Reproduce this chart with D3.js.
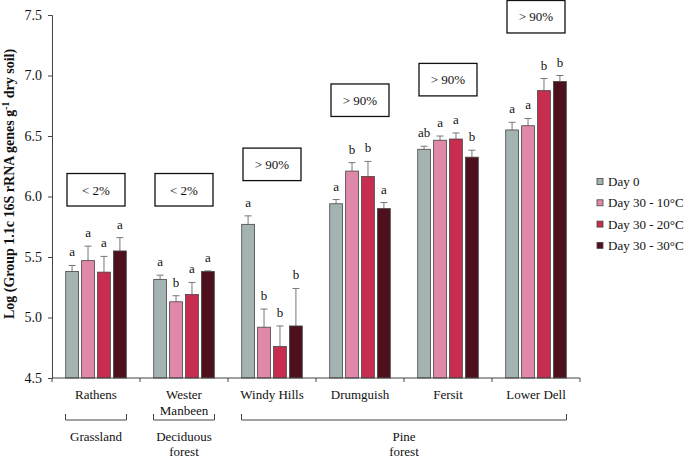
<!DOCTYPE html>
<html><head><meta charset="utf-8">
<script src="https://cdn.jsdelivr.net/npm/d3@7"></script>
<style>body{margin:0;background:#fff} text{font-family:"Liberation Serif","Times New Roman",serif}</style>
</head><body><svg id="c" width="693" height="457"></svg>
<script>
const categories = ["Rathens","Wester Manbeen","Windy Hills","Drumguish","Fersit","Lower Dell"];
const categoryLines = [["Rathens"],["Wester","Manbeen"],["Windy Hills"],["Drumguish"],["Fersit"],["Lower Dell"]];
const series = ["Day 0","Day 30 - 10°C","Day 30 - 20°C","Day 30 - 30°C"];
const day0     = [5.38, 5.315, 5.77, 5.94, 6.39, 6.55];
const day30_10 = [5.47, 5.13, 4.92, 6.21, 6.465, 6.585];
const day30_20 = [5.375, 5.19, 4.76, 6.165, 6.475, 6.875];
const day30_30 = [5.55, 5.38, 4.93, 5.90, 6.325, 6.95];
const err0  = [0.05, 0.035, 0.07, 0.035, 0.025, 0.063];
const err10 = [0.12, 0.05, 0.15, 0.07, 0.035, 0.06];
const err20 = [0.13, 0.10, 0.17, 0.125, 0.05, 0.10];
const err30 = [0.11, 0.005, 0.31, 0.05, 0.058, 0.05];
const letters0  = ["a","a","a","a","ab","a"];
const letters10 = ["a","b","b","b","a","a"];
const letters20 = ["a","a","b","b","a","b"];
const letters30 = ["a","a","b","a","b","b"];
const boxLabels = ["< 2%","< 2%","> 90%","> 90%","> 90%","> 90%"];
const boxLevels = [6.19, 6.19, 6.40, 6.93, 7.10, 7.62];
const habitats = [["Grassland"],["Deciduous","forest"],["Pine","forest"]];
const habitatSpans = [[0,0],[1,1],[2,5]];
const yTicks = [4.5,5.0,5.5,6.0,6.5,7.0,7.5];
const colors = ["#a3b3b2","#e088aa","#c62d4e","#4e101c"];

const values = [day0, day30_10, day30_20, day30_30];
const errs = [err0, err10, err20, err30];
const letters = [letters0, letters10, letters20, letters30];

const svg = d3.select("#c");
const pL = 52, pR = 580, pT = 15, pB = 378;
const x0 = d3.scaleBand().domain(categories).range([pL, pR]).padding(0);
const x1 = d3.scaleBand().domain(series).range([13.7, x0.bandwidth() - 13.7]).paddingInner(0.2).paddingOuter(0);
const y = d3.scaleLinear().domain([4.5, 7.5]).range([pB, pT]);

// bars
const data = [];
categories.forEach((c, i) => series.forEach((s, j) => data.push({c, s, j, v: values[j][i], e: errs[j][i], l: letters[j][i]})));
const g = svg.append("g");
const cxOf = d => x0(d.c) + x1(d.s) + x1.bandwidth()/2;
g.selectAll("line.err").data(data).join("line").attr("class","err")
  .attr("x1", cxOf).attr("x2", cxOf)
  .attr("y1", d => y(d.v)).attr("y2", d => y(d.v + d.e)).attr("stroke", "#777").attr("stroke-width", 1);
g.selectAll("line.cap").data(data).join("line").attr("class","cap")
  .attr("x1", d => cxOf(d) - 3.5).attr("x2", d => cxOf(d) + 3.5)
  .attr("y1", d => y(d.v + d.e)).attr("y2", d => y(d.v + d.e)).attr("stroke", "#777").attr("stroke-width", 1);
g.selectAll("rect.bar").data(data).join("rect").attr("class","bar")
  .attr("x", d => x0(d.c) + x1(d.s)).attr("width", x1.bandwidth())
  .attr("y", d => y(d.v)).attr("height", d => y(4.5) - y(d.v))
  .attr("fill", d => colors[d.j]).attr("stroke", "#444").attr("stroke-width", 0.8);
g.selectAll("text.let").data(data).join("text").attr("class","let")
  .attr("x", cxOf).attr("y", d => y(d.v + d.e) - 9)
  .attr("text-anchor", "middle").attr("font-size", 13).attr("fill", "#111").text(d => d.l);

// annotation boxes
categories.forEach((c, i) => {
  const cx = x0(c) + x0.bandwidth()/2, yt = y(boxLevels[i]);
  svg.append("rect").attr("x", cx - 29).attr("y", yt).attr("width", 58).attr("height", 32.5)
    .attr("fill", "#fff").attr("stroke", "#111").attr("stroke-width", 1.3);
  svg.append("text").attr("x", cx).attr("y", yt + 21).attr("text-anchor", "middle").attr("font-size", 13).attr("fill", "#111").text(boxLabels[i]);
});

// y axis
const ya = svg.append("g").attr("transform", `translate(${pL},0)`)
  .call(d3.axisLeft(y).tickValues(yTicks).tickFormat(d3.format(".1f")).tickSize(4).tickPadding(6));
ya.selectAll("path,line").attr("stroke", "#444");
ya.selectAll("text").attr("font-size", 14).attr("fill", "#111");

// x axis line and boundary ticks
const bounds = categories.map(c => x0(c)).concat([pR]);
svg.append("line").attr("x1", pL).attr("x2", pR).attr("y1", pB).attr("y2", pB).attr("stroke", "#444");
svg.selectAll("line.xt").data(bounds).join("line").attr("class","xt")
  .attr("x1", d => d).attr("x2", d => d).attr("y1", pB).attr("y2", pB + 4).attr("stroke", "#444");
categories.forEach((c, i) => {
  const t = svg.append("text").attr("x", x0(c) + x0.bandwidth()/2).attr("y", 398.5)
    .attr("text-anchor", "middle").attr("font-size", 13).attr("fill", "#111");
  categoryLines[i].forEach((ln, k) => t.append("tspan").attr("x", x0(c) + x0.bandwidth()/2).attr("dy", k ? 16 : 0).text(ln));
});

// habitat brackets
habitatSpans.forEach((sp, i) => {
  const xa = x0(categories[sp[0]]) + 13.5, xb = x0(categories[sp[1]]) + x0.bandwidth() - 13.5;
  svg.append("path").attr("d", `M${xa},414V420H${xb}V414`).attr("fill", "none").attr("stroke", "#444").attr("stroke-width", 1);
  const t = svg.append("text").attr("x", (xa + xb)/2).attr("y", 441).attr("text-anchor", "middle").attr("font-size", 13).attr("fill", "#111");
  habitats[i].forEach((ln, k) => t.append("tspan").attr("x", (xa + xb)/2).attr("dy", k ? 14.5 : 0).text(ln));
});

// y label
const yl = svg.append("text").attr("transform", "translate(14,184) rotate(-90)")
  .attr("text-anchor", "middle").attr("font-size", 14).attr("font-weight", "bold").attr("fill", "#111");
yl.append("tspan").text("Log (Group 1.1c 16S rRNA genes g");
yl.append("tspan").attr("font-size", 9.5).attr("dy", -5).text("-1");
yl.append("tspan").attr("dy", 5).text(" dry soil)");

// legend
series.forEach((s, j) => {
  const ly = 186 + j * 21.3;
  svg.append("rect").attr("x", 597).attr("y", ly - 7.5).attr("width", 6).attr("height", 6)
    .attr("fill", colors[j]).attr("stroke", "#444").attr("stroke-width", 0.8);
  svg.append("text").attr("x", 608).attr("y", ly).attr("font-size", 13).attr("fill", "#111").text(s);
});
</script></body></html>
